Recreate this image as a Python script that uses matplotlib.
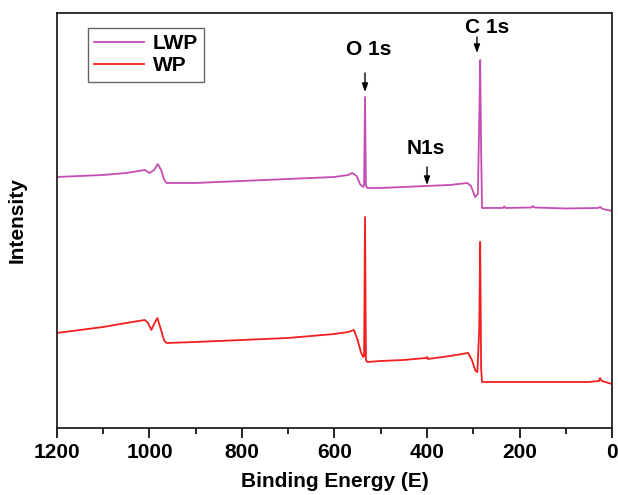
import matplotlib
matplotlib.use("Agg")
import matplotlib.pyplot as plt
from matplotlib.ticker import MultipleLocator

plt.rcParams['font.family'] = ['Liberation Sans', 'DejaVu Sans']
plt.rcParams['font.weight'] = 'bold'

# binding energy (eV) and intensity (a.u.)
lwp_energy = [1200, 1150, 1100, 1050, 1010, 1000, 990, 982, 975, 968, 963, 900, 800, 700, 600,
              570, 562, 552, 545, 538, 536, 534, 532, 529, 500, 450, 402, 350, 313, 305, 296,
              290, 287, 285, 283, 281, 250, 236, 233, 230, 174, 171, 168, 100, 30, 26, 20, 0]
lwp_intensity = [251, 252, 253, 255, 258, 255, 258, 264, 258, 248, 245, 245, 247, 249, 251,
                 253, 255, 252, 244, 241, 243, 331, 242, 240, 240, 241, 242, 243, 245, 242, 231,
                 234, 308, 368, 278, 220, 220, 220, 221.5, 220, 220.5, 222, 220.5, 219.5, 220, 221, 219, 217]

wp_energy = [1200, 1150, 1100, 1050, 1010, 1003, 996, 990, 983, 975, 968, 963, 900, 800, 700,
             600, 570, 558, 550, 543, 538, 536, 534, 532, 529, 500, 450, 402, 400, 398, 350,
             311, 303, 295, 291, 287, 285, 283, 281, 250, 150, 50, 28, 26, 22, 0]
wp_intensity = [95, 98, 101, 105, 108, 105, 98, 104, 110, 98, 87, 85, 86, 88, 90,
                94, 96, 98, 88, 76, 71, 72, 211, 68, 66, 67, 68, 70, 71, 69, 72,
                75, 68, 57, 56, 100, 186, 60, 46, 46, 46, 46, 47, 50, 47, 44]

# peak labels: (text, arrow energy, arrow top, arrow tip, text energy, text y)
peaks = [('O 1s', 534, 355, 336, 525, 378),
         ('C 1s', 292, 391, 375, 270, 400),
         ('N1s', 400, 261, 243, 402, 279)]

fig = plt.figure(figsize=(6.18, 4.95), dpi=100)
ax = fig.add_axes([0.0922, 0.1354, 0.8981, 0.8384])

ax.plot(lwp_energy, lwp_intensity, color='#C54DB3', lw=1.3, label='LWP')
ax.plot(wp_energy, wp_intensity, color='#F51E1E', lw=1.3, label='WP')

for name, e, ytop, ytip, etext, ytext in peaks:
    ax.annotate('', xy=(e, ytip), xytext=(e, ytop),
                arrowprops=dict(arrowstyle='-|>,head_length=0.5,head_width=0.18',
                                color='black', lw=1.0, shrinkA=0, shrinkB=0))
    ax.text(etext, ytext, name, ha='center', va='center', fontsize=15, fontweight='bold')

ax.set_xlim(1200, 0)
ax.set_ylim(0, 415)
ax.xaxis.set_major_locator(MultipleLocator(200))
ax.xaxis.set_minor_locator(MultipleLocator(100))
ax.tick_params(axis='x', which='major', direction='out', length=7, width=1.2, labelsize=15, pad=4)
ax.tick_params(axis='x', which='minor', direction='out', length=4, width=1.2)
ax.set_yticks([])
for lab in ax.get_xticklabels():
    lab.set_fontweight('bold')
for sp in ax.spines.values():
    sp.set_linewidth(1.3)
    sp.set_color('#222222')

ax.set_xlabel('Binding Energy (E)', fontsize=15, fontweight='bold', labelpad=7)
ax.set_ylabel('Intensity', fontsize=15, fontweight='bold')
ax.yaxis.set_label_coords(-0.055, 0.5)

leg = ax.legend(loc='upper left', bbox_to_anchor=(0.056, 0.964), borderaxespad=0, fontsize=15,
                handlelength=2.4, handletextpad=0.4, borderpad=0.3, labelspacing=0.15,
                fancybox=False, edgecolor='#666666', framealpha=1)
leg.get_frame().set_linewidth(1.0)

fig.savefig('out.png', dpi=100)
